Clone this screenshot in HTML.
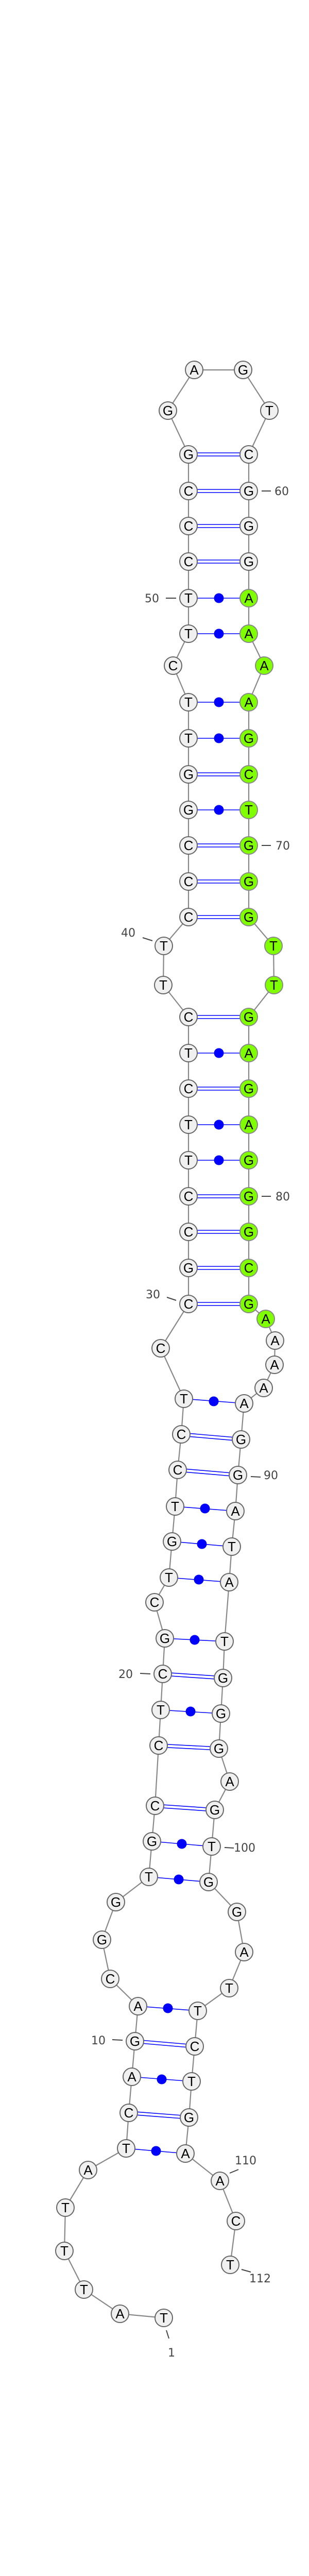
<!DOCTYPE html>
<html><head><meta charset="utf-8"><style>
html,body{margin:0;padding:0;background:#fff;width:600px;height:5180px;overflow:hidden}
svg{display:block}
.n{fill:#f0f0f0;stroke:#666;stroke-width:2}
.g{fill:#7fff00;stroke:#888;stroke-width:2}
.t{font-family:"Liberation Sans",Arial,sans-serif;font-size:26px;text-anchor:middle;fill:#000}
.l{font-family:"DejaVu Sans","Liberation Sans",sans-serif;font-size:22px;fill:#444}
.bb{fill:none;stroke:#888;stroke-width:2.2}
.p{stroke:#0000ff;stroke-width:1.6}
.d{fill:#0000ff}
.tk{stroke:#444;stroke-width:2}
</style></head><body>
<svg width="600" height="5180" viewBox="0 0 600 5180" xmlns="http://www.w3.org/2000/svg">
<polyline class="bb" points="318,4499 233,4491 163,4444 125,4369 127,4285 171,4212 245,4170 250,4101 256,4031 262,3962 268,3894 214,3841 198,3765 225,3692 289,3643 295,3574 301,3505 308,3388 312,3319 316,3249 320,3180 300,3110 328,3062 334,2992 340,2924 345,2853 352,2784 357,2715 312,2617 366,2531 366,2461 366,2391 366,2322 366,2252 366,2183 366,2113 366,2044 366,1974 317,1912 318,1836 366,1780 366,1711 366,1641 366,1572 366,1503 366,1433 366,1363 336,1292 366,1230 366,1161 366,1090 366,1021 366,953 366,882 326,797 377,718 472,718 523,797 483,882 483,953 483,1021 483,1090 483,1161 483,1230 513,1292 483,1363 483,1433 483,1503 483,1572 483,1641 483,1711 483,1780 531,1836 532,1912 483,1974 483,2044 483,2113 483,2183 483,2252 483,2322 483,2391 483,2461 483,2531 516,2560 534,2602 533,2649 512,2694 474,2724 468,2794 462,2863 457,2933 450,3002 445,3071 436,3186 433,3257 429,3326 425,3394 446,3458 417,3513 411,3584 405,3653 460,3711 474,3789 445,3859 384,3903 378,3972 372,4040 367,4110 360,4180 427,4233 458,4311 447,4396"/>
<g class="p">
<line x1="366" y1="879" x2="483" y2="879"/><line x1="366" y1="885" x2="483" y2="885"/>
<line x1="366" y1="950" x2="483" y2="950"/><line x1="366" y1="956" x2="483" y2="956"/>
<line x1="366" y1="1018" x2="483" y2="1018"/><line x1="366" y1="1024" x2="483" y2="1024"/>
<line x1="366" y1="1087" x2="483" y2="1087"/><line x1="366" y1="1093" x2="483" y2="1093"/>
<line x1="366" y1="1500" x2="483" y2="1500"/><line x1="366" y1="1506" x2="483" y2="1506"/>
<line x1="366" y1="1638" x2="483" y2="1638"/><line x1="366" y1="1644" x2="483" y2="1644"/>
<line x1="366" y1="1708" x2="483" y2="1708"/><line x1="366" y1="1714" x2="483" y2="1714"/>
<line x1="366" y1="1777" x2="483" y2="1777"/><line x1="366" y1="1783" x2="483" y2="1783"/>
<line x1="366" y1="1971" x2="483" y2="1971"/><line x1="366" y1="1977" x2="483" y2="1977"/>
<line x1="366" y1="2110" x2="483" y2="2110"/><line x1="366" y1="2116" x2="483" y2="2116"/>
<line x1="366" y1="2319" x2="483" y2="2319"/><line x1="366" y1="2325" x2="483" y2="2325"/>
<line x1="366" y1="2388" x2="483" y2="2388"/><line x1="366" y1="2394" x2="483" y2="2394"/>
<line x1="366" y1="2458" x2="483" y2="2458"/><line x1="366" y1="2464" x2="483" y2="2464"/>
<line x1="366" y1="2528" x2="483" y2="2528"/><line x1="366" y1="2534" x2="483" y2="2534"/>
<line x1="352" y1="2781" x2="468" y2="2791"/><line x1="352" y1="2787" x2="468" y2="2797"/>
<line x1="345" y1="2850" x2="462" y2="2860"/><line x1="345" y1="2856" x2="462" y2="2866"/>
<line x1="316" y1="3246" x2="433" y2="3254"/><line x1="316" y1="3252" x2="433" y2="3260"/>
<line x1="308" y1="3385" x2="425" y2="3391"/><line x1="308" y1="3391" x2="425" y2="3397"/>
<line x1="301" y1="3502" x2="417" y2="3510"/><line x1="301" y1="3508" x2="417" y2="3516"/>
<line x1="262" y1="3959" x2="378" y2="3969"/><line x1="262" y1="3965" x2="378" y2="3975"/>
<line x1="250" y1="4098" x2="367" y2="4107"/><line x1="250" y1="4104" x2="367" y2="4113"/>
<line x1="366" y1="1161" x2="483" y2="1161"/>
<line x1="366" y1="1230" x2="483" y2="1230"/>
<line x1="366" y1="1363" x2="483" y2="1363"/>
<line x1="366" y1="1433" x2="483" y2="1433"/>
<line x1="366" y1="1572" x2="483" y2="1572"/>
<line x1="366" y1="2044" x2="483" y2="2044"/>
<line x1="366" y1="2183" x2="483" y2="2183"/>
<line x1="366" y1="2252" x2="483" y2="2252"/>
<line x1="357" y1="2715" x2="474" y2="2724"/>
<line x1="340" y1="2924" x2="457" y2="2933"/>
<line x1="334" y1="2992" x2="450" y2="3002"/>
<line x1="328" y1="3062" x2="445" y2="3071"/>
<line x1="320" y1="3180" x2="436" y2="3186"/>
<line x1="312" y1="3319" x2="429" y2="3326"/>
<line x1="295" y1="3574" x2="411" y2="3584"/>
<line x1="289" y1="3643" x2="405" y2="3653"/>
<line x1="268" y1="3894" x2="384" y2="3903"/>
<line x1="256" y1="4031" x2="372" y2="4040"/>
<line x1="245" y1="4170" x2="360" y2="4180"/>
</g>
<g class="d">
<circle cx="425" cy="1161" r="9.5"/><circle cx="425" cy="1230" r="9.5"/><circle cx="425" cy="1363" r="9.5"/><circle cx="425" cy="1433" r="9.5"/><circle cx="425" cy="1572" r="9.5"/><circle cx="425" cy="2044" r="9.5"/><circle cx="425" cy="2183" r="9.5"/><circle cx="425" cy="2252" r="9.5"/>
<circle cx="415" cy="2720" r="9.5"/><circle cx="398" cy="2928" r="9.5"/><circle cx="392" cy="2997" r="9.5"/><circle cx="386" cy="3066" r="9.5"/><circle cx="378" cy="3183" r="9.5"/><circle cx="370" cy="3322" r="9.5"/><circle cx="353" cy="3579" r="9.5"/><circle cx="347" cy="3648" r="9.5"/><circle cx="326" cy="3898" r="9.5"/><circle cx="314" cy="4036" r="9.5"/><circle cx="303" cy="4175" r="9.5"/>
</g>
<g>
<circle class="n" cx="318" cy="4499" r="17"/><text class="t" x="318" y="4508">T</text>
<circle class="n" cx="233" cy="4491" r="17"/><text class="t" x="233" y="4500">A</text>
<circle class="n" cx="163" cy="4444" r="17"/><text class="t" x="163" y="4453">T</text>
<circle class="n" cx="125" cy="4369" r="17"/><text class="t" x="125" y="4378">T</text>
<circle class="n" cx="127" cy="4285" r="17"/><text class="t" x="127" y="4294">T</text>
<circle class="n" cx="171" cy="4212" r="17"/><text class="t" x="171" y="4221">A</text>
<circle class="n" cx="245" cy="4170" r="17"/><text class="t" x="245" y="4179">T</text>
<circle class="n" cx="250" cy="4101" r="17"/><text class="t" x="250" y="4110">C</text>
<circle class="n" cx="256" cy="4031" r="17"/><text class="t" x="256" y="4040">A</text>
<circle class="n" cx="262" cy="3962" r="17"/><text class="t" x="262" y="3971">G</text>
<circle class="n" cx="268" cy="3894" r="17"/><text class="t" x="268" y="3903">A</text>
<circle class="n" cx="214" cy="3841" r="17"/><text class="t" x="214" y="3850">C</text>
<circle class="n" cx="198" cy="3765" r="17"/><text class="t" x="198" y="3774">G</text>
<circle class="n" cx="225" cy="3692" r="17"/><text class="t" x="225" y="3701">G</text>
<circle class="n" cx="289" cy="3643" r="17"/><text class="t" x="289" y="3652">T</text>
<circle class="n" cx="295" cy="3574" r="17"/><text class="t" x="295" y="3583">G</text>
<circle class="n" cx="301" cy="3505" r="17"/><text class="t" x="301" y="3514">C</text>
<circle class="n" cx="308" cy="3388" r="17"/><text class="t" x="308" y="3397">C</text>
<circle class="n" cx="312" cy="3319" r="17"/><text class="t" x="312" y="3328">T</text>
<circle class="n" cx="316" cy="3249" r="17"/><text class="t" x="316" y="3258">C</text>
<circle class="n" cx="320" cy="3180" r="17"/><text class="t" x="320" y="3189">G</text>
<circle class="n" cx="300" cy="3110" r="17"/><text class="t" x="300" y="3119">C</text>
<circle class="n" cx="328" cy="3062" r="17"/><text class="t" x="328" y="3071">T</text>
<circle class="n" cx="334" cy="2992" r="17"/><text class="t" x="334" y="3001">G</text>
<circle class="n" cx="340" cy="2924" r="17"/><text class="t" x="340" y="2933">T</text>
<circle class="n" cx="345" cy="2853" r="17"/><text class="t" x="345" y="2862">C</text>
<circle class="n" cx="352" cy="2784" r="17"/><text class="t" x="352" y="2793">C</text>
<circle class="n" cx="357" cy="2715" r="17"/><text class="t" x="357" y="2724">T</text>
<circle class="n" cx="312" cy="2617" r="17"/><text class="t" x="312" y="2626">C</text>
<circle class="n" cx="366" cy="2531" r="17"/><text class="t" x="366" y="2540">C</text>
<circle class="n" cx="366" cy="2461" r="17"/><text class="t" x="366" y="2470">G</text>
<circle class="n" cx="366" cy="2391" r="17"/><text class="t" x="366" y="2400">C</text>
<circle class="n" cx="366" cy="2322" r="17"/><text class="t" x="366" y="2331">C</text>
<circle class="n" cx="366" cy="2252" r="17"/><text class="t" x="366" y="2261">T</text>
<circle class="n" cx="366" cy="2183" r="17"/><text class="t" x="366" y="2192">T</text>
<circle class="n" cx="366" cy="2113" r="17"/><text class="t" x="366" y="2122">C</text>
<circle class="n" cx="366" cy="2044" r="17"/><text class="t" x="366" y="2053">T</text>
<circle class="n" cx="366" cy="1974" r="17"/><text class="t" x="366" y="1983">C</text>
<circle class="n" cx="317" cy="1912" r="17"/><text class="t" x="317" y="1921">T</text>
<circle class="n" cx="318" cy="1836" r="17"/><text class="t" x="318" y="1845">T</text>
<circle class="n" cx="366" cy="1780" r="17"/><text class="t" x="366" y="1789">C</text>
<circle class="n" cx="366" cy="1711" r="17"/><text class="t" x="366" y="1720">C</text>
<circle class="n" cx="366" cy="1641" r="17"/><text class="t" x="366" y="1650">C</text>
<circle class="n" cx="366" cy="1572" r="17"/><text class="t" x="366" y="1581">G</text>
<circle class="n" cx="366" cy="1503" r="17"/><text class="t" x="366" y="1512">G</text>
<circle class="n" cx="366" cy="1433" r="17"/><text class="t" x="366" y="1442">T</text>
<circle class="n" cx="366" cy="1363" r="17"/><text class="t" x="366" y="1372">T</text>
<circle class="n" cx="336" cy="1292" r="17"/><text class="t" x="336" y="1301">C</text>
<circle class="n" cx="366" cy="1230" r="17"/><text class="t" x="366" y="1239">T</text>
<circle class="n" cx="366" cy="1161" r="17"/><text class="t" x="366" y="1170">T</text>
<circle class="n" cx="366" cy="1090" r="17"/><text class="t" x="366" y="1099">C</text>
<circle class="n" cx="366" cy="1021" r="17"/><text class="t" x="366" y="1030">C</text>
<circle class="n" cx="366" cy="953" r="17"/><text class="t" x="366" y="962">C</text>
<circle class="n" cx="366" cy="882" r="17"/><text class="t" x="366" y="891">G</text>
<circle class="n" cx="326" cy="797" r="17"/><text class="t" x="326" y="806">G</text>
<circle class="n" cx="377" cy="718" r="17"/><text class="t" x="377" y="727">A</text>
<circle class="n" cx="472" cy="718" r="17"/><text class="t" x="472" y="727">G</text>
<circle class="n" cx="523" cy="797" r="17"/><text class="t" x="523" y="806">T</text>
<circle class="n" cx="483" cy="882" r="17"/><text class="t" x="483" y="891">C</text>
<circle class="n" cx="483" cy="953" r="17"/><text class="t" x="483" y="962">G</text>
<circle class="n" cx="483" cy="1021" r="17"/><text class="t" x="483" y="1030">G</text>
<circle class="n" cx="483" cy="1090" r="17"/><text class="t" x="483" y="1099">G</text>
<circle class="g" cx="483" cy="1161" r="17"/><text class="t" x="483" y="1170">A</text>
<circle class="g" cx="483" cy="1230" r="17"/><text class="t" x="483" y="1239">A</text>
<circle class="g" cx="513" cy="1292" r="17"/><text class="t" x="513" y="1301">A</text>
<circle class="g" cx="483" cy="1363" r="17"/><text class="t" x="483" y="1372">A</text>
<circle class="g" cx="483" cy="1433" r="17"/><text class="t" x="483" y="1442">G</text>
<circle class="g" cx="483" cy="1503" r="17"/><text class="t" x="483" y="1512">C</text>
<circle class="g" cx="483" cy="1572" r="17"/><text class="t" x="483" y="1581">T</text>
<circle class="g" cx="483" cy="1641" r="17"/><text class="t" x="483" y="1650">G</text>
<circle class="g" cx="483" cy="1711" r="17"/><text class="t" x="483" y="1720">G</text>
<circle class="g" cx="483" cy="1780" r="17"/><text class="t" x="483" y="1789">G</text>
<circle class="g" cx="531" cy="1836" r="17"/><text class="t" x="531" y="1845">T</text>
<circle class="g" cx="532" cy="1912" r="17"/><text class="t" x="532" y="1921">T</text>
<circle class="g" cx="483" cy="1974" r="17"/><text class="t" x="483" y="1983">G</text>
<circle class="g" cx="483" cy="2044" r="17"/><text class="t" x="483" y="2053">A</text>
<circle class="g" cx="483" cy="2113" r="17"/><text class="t" x="483" y="2122">G</text>
<circle class="g" cx="483" cy="2183" r="17"/><text class="t" x="483" y="2192">A</text>
<circle class="g" cx="483" cy="2252" r="17"/><text class="t" x="483" y="2261">G</text>
<circle class="g" cx="483" cy="2322" r="17"/><text class="t" x="483" y="2331">G</text>
<circle class="g" cx="483" cy="2391" r="17"/><text class="t" x="483" y="2400">G</text>
<circle class="g" cx="483" cy="2461" r="17"/><text class="t" x="483" y="2470">C</text>
<circle class="g" cx="483" cy="2531" r="17"/><text class="t" x="483" y="2540">G</text>
<circle class="g" cx="516" cy="2560" r="17"/><text class="t" x="516" y="2569">A</text>
<circle class="n" cx="534" cy="2602" r="17"/><text class="t" x="534" y="2611">A</text>
<circle class="n" cx="533" cy="2649" r="17"/><text class="t" x="533" y="2658">A</text>
<circle class="n" cx="512" cy="2694" r="17"/><text class="t" x="512" y="2703">A</text>
<circle class="n" cx="474" cy="2724" r="17"/><text class="t" x="474" y="2733">A</text>
<circle class="n" cx="468" cy="2794" r="17"/><text class="t" x="468" y="2803">G</text>
<circle class="n" cx="462" cy="2863" r="17"/><text class="t" x="462" y="2872">G</text>
<circle class="n" cx="457" cy="2933" r="17"/><text class="t" x="457" y="2942">A</text>
<circle class="n" cx="450" cy="3002" r="17"/><text class="t" x="450" y="3011">T</text>
<circle class="n" cx="445" cy="3071" r="17"/><text class="t" x="445" y="3080">A</text>
<circle class="n" cx="436" cy="3186" r="17"/><text class="t" x="436" y="3195">T</text>
<circle class="n" cx="433" cy="3257" r="17"/><text class="t" x="433" y="3266">G</text>
<circle class="n" cx="429" cy="3326" r="17"/><text class="t" x="429" y="3335">G</text>
<circle class="n" cx="425" cy="3394" r="17"/><text class="t" x="425" y="3403">G</text>
<circle class="n" cx="446" cy="3458" r="17"/><text class="t" x="446" y="3467">A</text>
<circle class="n" cx="417" cy="3513" r="17"/><text class="t" x="417" y="3522">G</text>
<circle class="n" cx="411" cy="3584" r="17"/><text class="t" x="411" y="3593">T</text>
<circle class="n" cx="405" cy="3653" r="17"/><text class="t" x="405" y="3662">G</text>
<circle class="n" cx="460" cy="3711" r="17"/><text class="t" x="460" y="3720">G</text>
<circle class="n" cx="474" cy="3789" r="17"/><text class="t" x="474" y="3798">A</text>
<circle class="n" cx="445" cy="3859" r="17"/><text class="t" x="445" y="3868">T</text>
<circle class="n" cx="384" cy="3903" r="17"/><text class="t" x="384" y="3912">T</text>
<circle class="n" cx="378" cy="3972" r="17"/><text class="t" x="378" y="3981">C</text>
<circle class="n" cx="372" cy="4040" r="17"/><text class="t" x="372" y="4049">T</text>
<circle class="n" cx="367" cy="4110" r="17"/><text class="t" x="367" y="4119">G</text>
<circle class="n" cx="360" cy="4180" r="17"/><text class="t" x="360" y="4189">A</text>
<circle class="n" cx="427" cy="4233" r="17"/><text class="t" x="427" y="4242">A</text>
<circle class="n" cx="458" cy="4311" r="17"/><text class="t" x="458" y="4320">C</text>
<circle class="n" cx="447" cy="4396" r="17"/><text class="t" x="447" y="4405">T</text>
</g>
<g class="tk">
<line x1="508" y1="953" x2="526" y2="953"/>
<line x1="322" y1="1161" x2="342" y2="1161"/>
<line x1="508" y1="1641" x2="526" y2="1641"/>
<line x1="277" y1="1820" x2="296" y2="1826"/>
<line x1="508" y1="2322" x2="526" y2="2322"/>
<line x1="324" y1="2518" x2="342" y2="2524"/>
<line x1="487" y1="2866" x2="506" y2="2867"/>
<line x1="272" y1="3248" x2="292" y2="3249"/>
<line x1="436" y1="3586" x2="454" y2="3587"/>
<line x1="218" y1="3959" x2="238" y2="3960"/>
<line x1="446" y1="4218" x2="463" y2="4211"/>
<line x1="469" y1="4405" x2="487" y2="4410"/>
<line x1="323" y1="4523" x2="328" y2="4539"/>
</g>
<g class="l">
<text x="533" y="961">60</text>
<text x="281" y="1169">50</text>
<text x="535" y="1649">70</text>
<text x="235" y="1818">40</text>
<text x="535" y="2330">80</text>
<text x="283" y="2520">30</text>
<text x="512" y="2871">90</text>
<text x="230" y="3257">20</text>
<text x="454" y="3594">100</text>
<text x="177" y="3968">10</text>
<text x="456" y="4201">110</text>
<text x="484" y="4430">112</text>
<text x="326" y="4574">1</text>
</g>
<text x="302" y="5173" style="font-family:'DejaVu Sans','Liberation Sans',sans-serif;font-size:11px;font-weight:bold;text-anchor:middle;fill:#000">rno-mir-320_annot [-55.9]</text>
</svg>
</body></html>
